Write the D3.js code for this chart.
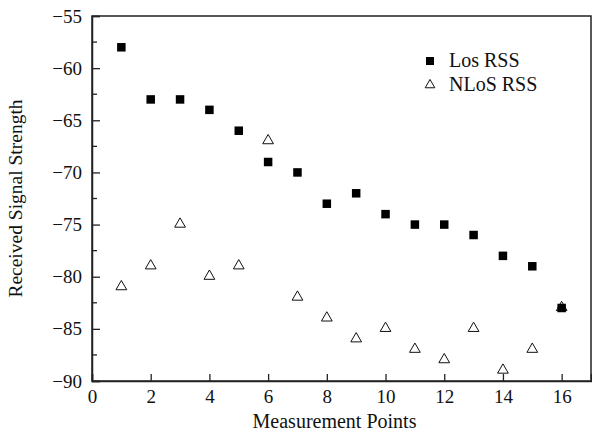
<!DOCTYPE html>
<html>
<head>
<meta charset="utf-8">
<script src="https://cdn.jsdelivr.net/npm/d3@7"></script>
<style>
  body { margin: 0; background: #fff; }
  svg text { font-family: "Liberation Serif", "DejaVu Serif", serif; fill: #111; }
</style>
</head>
<body>
<div id="chart"></div>
<script>
// measurement points and the two RSS series
const points = [1, 2, 3, 4, 5, 6, 7, 8, 9, 10, 11, 12, 13, 14, 15, 16];
const losRss = [-58, -63, -63, -64, -66, -69, -70, -73, -72, -74, -75, -75, -76, -78, -79, -83];
const nlosRss = [-81, -79, -75, -80, -79, -67, -82, -84, -86, -85, -87, -88, -85, -89, -87, -83];
const xTicks = [0, 2, 4, 6, 8, 10, 12, 14, 16];
const yTicks = [-90, -85, -80, -75, -70, -65, -60, -55];
const yMinorTicks = [-87.5, -82.5, -77.5, -72.5, -67.5, -62.5, -57.5];
const seriesNames = ["Los RSS", "NLoS RSS"];

const width = 592, height = 437;
const margin = { left: 92, right: 1, top: 16, bottom: 56 };

const svg = d3.select("#chart").append("svg")
  .attr("width", width)
  .attr("height", height);

const x = d3.scaleLinear().domain([0, 17]).range([margin.left, width - margin.right]);
const y = d3.scaleLinear().domain([-90, -55]).range([height - margin.bottom, margin.top]);

// frame
svg.append("rect")
  .attr("x", margin.left)
  .attr("y", margin.top)
  .attr("width", width - margin.right - margin.left)
  .attr("height", height - margin.bottom - margin.top)
  .attr("fill", "none")
  .attr("stroke", "#222")
  .attr("stroke-width", 1.5);

// x axis, ticks pointing inward
const xAxis = svg.append("g")
  .attr("transform", `translate(0,${height - margin.bottom})`)
  .call(d3.axisBottom(x).tickValues(xTicks).tickSize(-7).tickPadding(9).tickFormat(d3.format("d")));
xAxis.select(".domain").attr("stroke", "#222").attr("stroke-width", 1.5);
xAxis.selectAll(".tick line").attr("stroke", "#222").attr("stroke-width", 1.3);
xAxis.selectAll("text").attr("font-size", 19).style("font-family", "Liberation Serif");

// y axis, ticks pointing inward
const yAxis = svg.append("g")
  .attr("transform", `translate(${margin.left},0)`)
  .call(d3.axisLeft(y).tickValues(yTicks).tickSize(-8).tickPadding(10).tickFormat(d => d3.format("d")(d).replace("-", "\u2212")));
yAxis.select(".domain").attr("stroke", "#222").attr("stroke-width", 1.5);
yAxis.selectAll(".tick line").attr("stroke", "#222").attr("stroke-width", 1.3);
yAxis.selectAll("text").attr("font-size", 19).style("font-family", "Liberation Serif");

svg.append("g")
  .selectAll("line")
  .data(yMinorTicks)
  .join("line")
  .attr("x1", margin.left)
  .attr("x2", margin.left + 5)
  .attr("y1", d => y(d))
  .attr("y2", d => y(d))
  .attr("stroke", "#222")
  .attr("stroke-width", 1.3);

// axis titles
svg.append("text")
  .attr("x", (margin.left + width - margin.right) / 2 - 7)
  .attr("y", 428)
  .attr("text-anchor", "middle")
  .attr("font-size", 20)
  .text("Measurement Points");

svg.append("text")
  .attr("transform", `translate(22,${(margin.top + height - margin.bottom) / 2}) rotate(-90)`)
  .attr("text-anchor", "middle")
  .attr("font-size", 19.5)
  .text("Received Signal Strength");

// markers
const tri = d3.symbol().type(d3.symbolTriangle).size(50);
const sq = 8.5;

svg.append("g")
  .selectAll("path")
  .data(points.map((p, i) => [p, nlosRss[i]]))
  .join("path")
  .attr("d", tri)
  .attr("transform", d => `translate(${x(d[0])},${y(d[1]) - 0.5})`)
  .attr("fill", "none")
  .attr("stroke", "#111")
  .attr("stroke-width", 1);

svg.append("g")
  .selectAll("rect")
  .data(points.map((p, i) => [p, losRss[i]]))
  .join("rect")
  .attr("x", d => x(d[0]) - sq / 2)
  .attr("y", d => y(d[1]) - sq / 2)
  .attr("width", sq)
  .attr("height", sq)
  .attr("fill", "#000");

// legend
const legend = svg.append("g").attr("transform", "translate(430,61)");
legend.append("rect").attr("x", -4).attr("y", -4).attr("width", 8).attr("height", 8).attr("fill", "#000");
legend.append("path").attr("d", d3.symbol().type(d3.symbolTriangle).size(40))
  .attr("transform", "translate(0,24)")
  .attr("fill", "none").attr("stroke", "#111").attr("stroke-width", 1);
legend.selectAll("text")
  .data(seriesNames)
  .join("text")
  .attr("x", 19)
  .attr("y", (d, i) => i * 24 + 6)
  .attr("font-size", 20)
  .text(d => d);
</script>
</body>
</html>
